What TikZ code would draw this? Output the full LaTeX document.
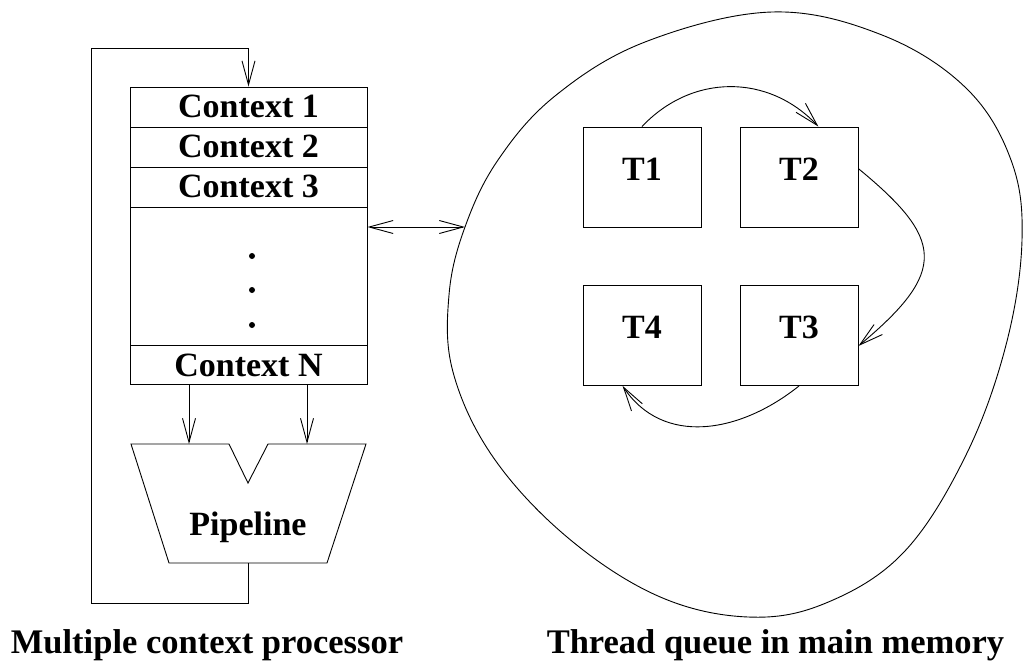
\documentclass[tikz,border=0pt]{standalone}
\usepackage{fontspec}
\setmainfont{Liberation Serif}
\usetikzlibrary{arrows.meta,calc}
\begin{document}
\begin{tikzpicture}[x=1pt,y=-1pt,line width=0.9pt,
  lbl/.style={font=\bfseries\fontsize{34}{37}\selectfont},
  title/.style={font=\bfseries\fontsize{34.5}{38}\selectfont,anchor=base},
  ctx/.style={lbl,draw,rectangle,inner sep=0pt,minimum width=237pt,minimum height=40pt,text height=24pt,text depth=4pt},
  tbox/.style={lbl,draw,rectangle,inner sep=0pt,minimum width=118pt,minimum height=100pt,text height=24pt,text depth=18pt},
  arr/.style={-{Straight Barb[length=24pt,width=13pt]}},
  darr/.style={{Straight Barb[length=24pt,width=13pt]}-{Straight Barb[length=24pt,width=13pt]}}]
\useasboundingbox (0,0) rectangle (1023,667);

% ---- register file of the multiple-context processor
\node[ctx] (c1) at (248.5,107) {Context 1};
\node[ctx] (c2) at (248.5,147) {Context 2};
\node[ctx] (c3) at (248.5,187) {Context 3};
\node[ctx,minimum height=138pt] (mid) at (248.5,276) {};
\node[ctx,minimum height=39pt,text depth=0pt] (cN) at (248.5,364.5) {Context N};
\foreach \yy in {256,290,325} \fill (252,\yy) circle (3pt);

% ---- pipeline with its two inputs
\coordinate (pA) at (131,444);
\coordinate (pin1) at (189,444);
\coordinate (pB) at (229,444);
\coordinate (pV) at (248,483);
\coordinate (pC) at (268,444);
\coordinate (pin2) at (307,444);
\coordinate (pD) at (366,444);
\coordinate (pE) at (327,563);
\coordinate (pout) at (248,563);
\coordinate (pF) at (169,563);
\draw (pA) -- (pB) -- (pV) -- (pC) -- (pD) -- (pE) -- (pF) -- cycle;
\node[lbl,anchor=base] (pipe) at (248,535) {Pipeline};
\draw[arr] (cN.south -| pin1) -- (pin1);
\draw[arr] (cN.south -| pin2) -- (pin2);

% ---- feedback from the pipeline back to the contexts
\coordinate (loopB) at (91,603);
\coordinate (loopT) at (91,48);
\draw[arr] (pout) -- (pout |- loopB) -| (loopT) -| (c1.north);

% ---- main memory
\coordinate (mem) at (465,227);
\draw plot[smooth cycle,tension=0.62] coordinates {
  (772,12) (882,35) (966,88) (1011,160) (1022,240) (1006,345)
  (966,455) (904,552) (826,603) (748,617) (658,596) (567,537)
  (493,457) (453,372) (449,295) (465,227) (498,160) (555,96) (645,42)};
\draw[darr] (mem -| mid.east) -- (mem);

% ---- thread queue
\node[tbox] (t1) at (642,177) {T1};
\node[tbox] (t2) at (799,177) {T2};
\node[tbox] (t3) at (799,335.5) {T3};
\node[tbox] (t4) at (642,335.5) {T4};
\draw[arr] (t1.north) .. controls +(50,-53) and +(-50,-53) .. (t2.69);
\draw[arr] (t2.8) .. controls +(85,70) and +(90,-75) .. (t3.-10);
\draw[arr] (t3.south) .. controls +(-60,48) and +(40,60) .. (t4.-111);

% ---- captions
\node[title] (cap1) at (207,653) {Multiple context processor};
\node[title] (cap2) at (775.5,653) {Thread queue in main memory};
\end{tikzpicture}
\end{document}
